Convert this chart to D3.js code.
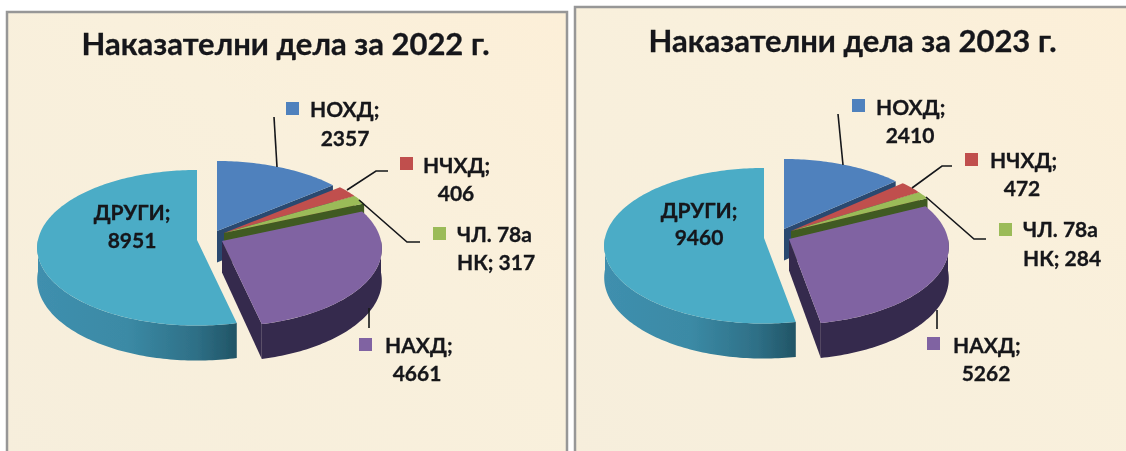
<!DOCTYPE html>
<html><head><meta charset="utf-8">
<script src="https://cdn.jsdelivr.net/npm/d3@7/dist/d3.min.js"></script>
<style>html,body{margin:0;padding:0;background:#fff}svg{display:block}text{font-family:Lato,"Open Sans","Noto Sans",sans-serif;font-weight:700;fill:#14161a;stroke:#14161a;stroke-width:.3}</style>
</head><body><svg id="c" width="1126" height="451"></svg>
<script>
const categories = ["НОХД","НЧХД","ЧЛ. 78а НК","НАХД","ДРУГИ"];
const values2022 = [2357,406,317,4661,8951];
const values2023 = [2410,472,284,5262,9460];
const titles = ["Наказателни дела за 2022 г.","Наказателни дела за 2023 г."];
const topColors = ["#4f81bd","#c0504d","#9bbb59","#8064a2","#4bacc6"];
const wallColors = ["#2c4a70","#6e2c2a","#3f5a20","#362a4e","url(#cy)"];

// Layout of each panel: frame, pie anchor and the label / leader geometry.
const layouts = [
 {frame:[7,12,560,470],cx:217,cy:231,title:[285.5,55],
  lab:[{sw:[286,102],t:[310,117],v:[345,146],lead:[[274,117],[277,167]]},
       {sw:[400,157],t:[423,173],v:[456,201],lead:[[388,171],[376,171],[347,190]]},
       {sw:[433,227],t:[457,242],v:[null,270],lead:[[420,242],[407,242],[359,200]]},
       {sw:[359,338],t:[385,353],v:[417,381],lead:[[369,308],[369,328]]},
       {t:[132,220],v:[132,248],center:true}]},
 {frame:[575,7,570,470],cx:784,cy:229,title:[852.5,52],
  lab:[{sw:[852,99],t:[876,115],v:[910,143],lead:[[838,114],[843,165]]},
       {sw:[965,153],t:[990,168],v:[1022,196],lead:[[952,166],[942,166],[912,188]]},
       {sw:[999,223],t:[1023,237],v:[null,266],lead:[[986,239],[974,239],[926,197]]},
       {sw:[927,337],t:[953,353],v:[986,381],lead:[[937,310],[937,329]]},
       {t:[699,218],v:[699,245],center:true}]}
];
const explode = [[0,0],[7,2],[7,2],[5,10],[-20,9]];
const R=159, Ry=77, depth=31.5, k=0.1;

const svg=d3.select("#c");
const defs=svg.append("defs");
defs.append("filter").attr("id","soft").attr("x","-2%").attr("y","-2%").attr("width","104%").attr("height","104%")
  .append("feGaussianBlur").attr("stdDeviation",0.55);
const bg=defs.append("linearGradient").attr("id","bg").attr("x1",0).attr("y1",1).attr("x2",1).attr("y2",0);
bg.append("stop").attr("offset",0).attr("stop-color","#f6eedc");
bg.append("stop").attr("offset",0.6).attr("stop-color","#f9f0dc");
bg.append("stop").attr("offset",1).attr("stop-color","#fcefd8");
const cy=defs.append("linearGradient").attr("id","cy").attr("x1",0).attr("y1",0).attr("x2",1).attr("y2",0);
[[0,"#3f8fae"],[0.45,"#3b8aa5"],[0.8,"#2e6f86"],[1,"#215465"]].forEach(s=>cy.append("stop").attr("offset",s[0]).attr("stop-color",s[1]));

const root=svg.append("g").attr("filter","url(#soft)");
const pie=d3.pie().sort(null);
const line=d3.line();

// Perspective projection of a point on the unit disc (angle clockwise from top).
function proj(a,r,ox,oy,h){
  const u=r*Math.sin(a), v=-r*Math.cos(a), s=1/(1-k*v);
  return [ox+R*u*s, oy+(Ry*v+h)*s];
}
function arcPts(a0,a1,ox,oy,h){
  const n=Math.max(2,Math.ceil((a1-a0)/0.02));
  return d3.range(n+1).map(i=>proj(a0+(a1-a0)*i/n,1,ox,oy,h));
}

function drawPanel(values,title,L){
  const [fx,fy,fw,fh]=L.frame;
  root.append("rect").attr("x",fx).attr("y",fy).attr("width",fw).attr("height",fh)
    .attr("fill","url(#bg)").attr("stroke","#979797").attr("stroke-width",2.5);
  root.append("text").attr("x",L.title[0]).attr("y",L.title[1]).attr("text-anchor","middle")
    .attr("font-size",31).text(title);

  const arcs=pie(values);
  arcs.forEach((d,i)=>{
    const ox=L.cx+explode[i][0], oy=L.cy+explode[i][1];
    const g=root.append("g");
    // outer wall (front half only)
    const a0=Math.max(d.startAngle,Math.PI/2), a1=Math.min(d.endAngle,Math.PI*1.5);
    if(a1>a0){
      const pts=arcPts(a0,a1,ox,oy,0).concat(arcPts(a0,a1,ox,oy,depth).reverse());
      g.append("path").attr("d",line(pts)+"Z").attr("fill",wallColors[i]);
    }
    // radial walls facing the viewer
    [[d.endAngle,Math.sin(d.endAngle)>1e-6],[d.startAngle,Math.sin(d.startAngle)<-1e-6]].forEach(([a,vis])=>{
      if(!vis) return;
      const e=proj(a,1,ox,oy,0), e2=proj(a,1,ox,oy,depth), o=proj(0,0,ox,oy,0), o2=proj(0,0,ox,oy,depth);
      g.append("path").attr("d",line([o,e,e2,o2])+"Z").attr("fill",i===4?"#215465":wallColors[i]);
    });
    // top face
    const top=[proj(0,0,ox,oy,0)].concat(arcPts(d.startAngle,d.endAngle,ox,oy,0));
    g.append("path").attr("d",line(top)+"Z").attr("fill",topColors[i]);
  });

  // leaders, swatches and labels
  L.lab.forEach((l,i)=>{
    if(l.lead) root.append("path").attr("d",line(l.lead)).attr("fill","none").attr("stroke","#15171a").attr("stroke-width",1.6);
    if(l.sw) root.append("rect").attr("x",l.sw[0]).attr("y",l.sw[1]).attr("width",13).attr("height",13).attr("fill",topColors[i]);
    if(i===2){
      root.append("text").attr("x",l.t[0]).attr("y",l.t[1]).attr("font-size",21).text("ЧЛ. 78а");
      root.append("text").attr("x",l.t[0]).attr("y",l.v[1]).attr("font-size",21).text("НК; "+values[i]);
    } else {
      root.append("text").attr("x",l.t[0]).attr("y",l.t[1]).attr("font-size",21)
        .attr("text-anchor",l.center?"middle":"start").text(categories[i]+";");
      root.append("text").attr("x",l.v[0]).attr("y",l.v[1]).attr("font-size",21).attr("text-anchor","middle").text(values[i]);
    }
  });
}
drawPanel(values2022,titles[0],layouts[0]);
drawPanel(values2023,titles[1],layouts[1]);
</script></body></html>
